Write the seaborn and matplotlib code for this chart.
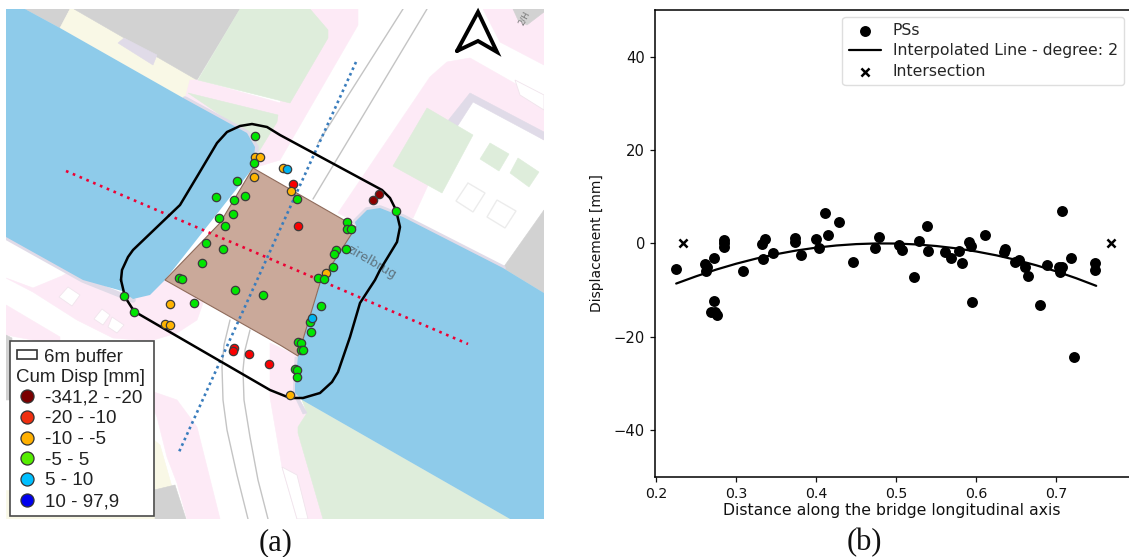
import matplotlib
matplotlib.use("Agg")
import matplotlib.pyplot as plt
import seaborn as sns
import pandas as pd
from matplotlib.lines import Line2D
from matplotlib.patches import Polygon, Rectangle

# ---------- displacement profile (panel b) ----------
pss_distance = [.225,.261,.264,.262,.272,.272,.268,.273,.276,.285,.285,.285,.308,.332,.336,.334,.346,
                .373,.373,.381,.400,.403,.411,.428,.415,.446,.478,.474,.503,.507,.529,.539,.540,.522,
                .561,.569,.579,.582,.591,.594,.595,.611,.636,.635,.653,.648,.661,.665,.680,.689,.707,
                .722,.719,.707,.704,.705,.749,.748]
pss_disp = [-5.57,-4.5,-5.07,-5.93,-3.07,-12.43,-14.7,-14.7,-15.3,.79,0,-.86,-5.86,-.14,.86,-3.36,-2.0,
            1.14,.36,-2.43,.86,-1.0,6.43,4.64,1.79,-3.93,1.29,-1.07,-.29,-1.36,.57,3.64,-1.57,-7.14,
            -1.86,-3.21,-1.64,-4.21,.29,-.64,-12.64,1.71,-1.29,-1.86,-3.64,-3.93,-5.07,-7.07,-13.2,-4.71,6.93,
            -24.3,-3.07,-5.0,-5.14,-6.07,-4.21,-5.71]
curve_distance = [.225,.25,.275,.30,.325,.35,.375,.40,.425,.45,.475,.50,.525,.55,.575,.60,.625,.65,.675,.70,.725,.75]
curve_disp = [-8.6,-7.04,-5.61,-4.35,-3.25,-2.31,-1.53,-.91,-.45,-.15,-.01,-.03,-.22,-.56,-1.06,-1.73,-2.55,-3.54,-4.69,-5.99,-7.46,-9.09]
cross_distance = [.233,.768]
cross_disp = [0,0]
x_ticks = [.2,.3,.4,.5,.6,.7]
y_ticks = [-40,-20,0,20,40]

# ---------- persistent scatterers on the map (panel a, image pixels) ----------
class_names = ["-341,2 - -20","-20 - -10","-10 - -5","-5 - 5","5 - 10","10 - 97,9"]
map_colors = ["#8b0000","#fa0000","#ffb400","#00e600","#00b4f0","#0000e6"]
legend_colors = ["#7a0000","#f03010","#ffb000","#55ee00","#00bfff","#0000ee"]
ps_dark_x = [379,373]
ps_dark_y = [194,200]
ps_red_x = [293,298,234,233,249,269]
ps_red_y = [184,226,348,351,354,364]
ps_orange_x = [255,260,254,283,291,326,170,165,170,290]
ps_orange_y = [157,157,177,168,191,273,304,324,325,395]
ps_green_x = [255,254,237,245,216,234,233,219,225,206,223,202,179,182,297,396,347,347,351,336,334,346,333,318,324,
              124,134,235,263,194,321,310,311,298,301,301,303,295,297,297]
ps_green_y = [136,163,181,196,197,200,214,218,226,243,249,263,278,279,199,211,222,229,229,250,254,249,267,278,279,
              296,312,290,295,303,306,322,332,342,343,350,350,369,370,377]
ps_cyan_x = [287,312]
ps_cyan_y = [169,318]

# ---------- map geometry (image pixels) ----------
WATER = "#8ecbea"; PINK = "#fdeaf6"; GREEN = "#deeddb"; GRAY = "#d2d2d2"; BEIGE = "#f9f8e6"; MAUVE = "#e0dbe8"
map_areas = [
    (GRAY,  [(25,9),(60,28),(70,9)]),
    (BEIGE, [(70,9),(60,28),(185,99),(197,80),(74,9)]),
    (GRAY,  [(74,9),(197,80),(240,9)]),
    (MAUVE, [(118,43),(124,38),(157,55),(153,65)]),
    (PINK,  [(190,80),(198,80),(280,103),(310,9),(358,9),(358,25),(280,160),(253,168),(247,133),(185,99)]),
    (GREEN, [(240,9),(310,9),(328,30),(328,38),(290,103),(198,80)]),
    (GREEN, [(188,93),(278,115),(277,122),(258,153),(253,142),(247,133)]),
    (PINK,  [(338,213),(430,77),(447,62),(470,58),(544,100),(544,140),(470,93),(413,218),(380,208),(356,222)]),
    (MAUVE, [(470,93),(544,132),(544,140),(473,102),(455,130),(447,122)]),
    (PINK,  [(483,9),(544,9),(544,65),(500,42)]),
    (GRAY,  [(513,9),(518,20),(527,25),(544,12),(544,9)]),
    (GRAY,  [(503,268),(544,210),(544,293)]),
    (GREEN, [(427,108),(473,135),(442,193),(393,166)]),
    (GREEN, [(490,143),(509,154),(499,171),(480,159)]),
    (GREEN, [(518,158),(539,172),(529,187),(510,173)]),
    (PINK,  [(6,278),(33,288),(62,276),(72,270),(113,292),(133,300),(165,280),(203,295),(203,303),(197,320),(177,333),(150,341),(113,338),(77,320),(33,292)]),
    (PINK,  [(6,305),(60,337),(60,345),(6,335)]),
    (GRAY,  [(6,335),(12,338),(12,400),(6,400)]),
    (PINK,  [(154,392),(177,400),(197,427),(220,519),(187,519),(177,483),(167,457),(157,417),(154,410)]),
    (BEIGE, [(154,440),(160,445),(172,487),(154,490)]),
    (GRAY,  [(154,490),(175,485),(186,519),(154,519)]),
    (BEIGE, [(6,490),(154,490),(154,519),(6,519)]),
    (PINK,  [(270,343),(298,356),(295,393),(307,413),(298,427),(298,433),(323,519),(297,519),(282,467),(270,397)]),
    (GREEN, [(302,400),(510,519),(323,519),(298,433),(298,427),(307,413)]),
    (MAUVE, [(295,357),(298,357),(296,393),(307,413),(303,414),(293,393)]),
]
white_rects = [
    [(68,287),(80,295),(72,306),(59,297)],
    [(102,309),(110,315),(103,325),(94,319)],
    [(112,317),(124,325),(117,333),(108,327)],
    [(282,467),(297,475),(308,519),(297,519)],
    [(515,80),(544,95),(544,110),(520,95)],
]
outlined_rects = [
    [(468,183),(485,193),(473,212),(456,201)],
    [(497,200),(516,211),(505,228),(487,217)],
]
bank_upper = [(185,99),(247,133),(256,147),(254,168)]
bank_lower = [(6,237),(83,280),(113,292),(133,300)]
bank_right = [(355,222),(367,210),(380,208),(403,217),(503,268)]
water_west = [(6,9),(25,9),(60,28),(185,99),(247,133),(255,147),(253,168),(165,280),(150,295),(133,299),(122,291),(83,280),(6,237)]
water_east = [(356,227),(355,222),(367,210),(380,208),(403,217),(503,268),(544,293),(544,519),(510,519),(302,400),(295,393),(295,385),(298,356),(320,283)]
deck = [(253,168),(356,227),(320,283),(298,356),(280,345),(165,280),(220,223)]
road_lines = [
    [(403,9),(318,143)], [(427,9),(313,199)],
    [(230,320),(224,345),(222,367),(223,400),(227,430),(237,475),(248,519)],
    [(250,330),(245,350),(243,370),(244,400),(250,437),(258,480),(268,519)],
]
buffer_x = [121,122,128,133,180,198,217,227,240,252,267,280,382,390,396,400,397,380,375,360,350,338,332,320,303,290,270,137,132,125,121]
buffer_y = [280,270,257,250,205,175,143,132,126,124,127,135,190,198,210,227,242,270,280,303,337,372,382,393,398,398,390,313,308,297,280]
north_x = [457,478,497,478,457]
north_y = [51,12,52,41,51]
longitudinal_x = [356,179]
longitudinal_y = [62,452]
transverse_x = [66,468]
transverse_y = [171,344]

sns.set_theme(style="ticks")
plt.rcParams["font.family"] = ["DejaVu Sans"]

W, H = 1129, 557
fig = plt.figure(figsize=(W/100, H/100), dpi=100, facecolor="white")

# ---------- panel a ----------
ax = fig.add_axes([6/W, (H-519)/H, 538/W, 510/H])
ax.set_xlim(6, 544); ax.set_ylim(519, 9); ax.axis("off")
for c, pts in map_areas:
    ax.add_patch(Polygon(pts, closed=True, fc=c, ec=c, lw=0.4, zorder=1))
for pts in white_rects:
    ax.add_patch(Polygon(pts, closed=True, fc="white", ec="#f0e4ec", lw=0.6, zorder=1.2))
for pts in outlined_rects:
    ax.add_patch(Polygon(pts, closed=True, fc="white", ec="#ececec", lw=1, zorder=1.2))
for pts in road_lines:
    ax.plot(*zip(*pts), color="#c4c4c4", lw=1, zorder=1.3)
for pts in (bank_upper, bank_lower, bank_right):
    ax.plot(*zip(*pts), color=MAUVE, lw=4, zorder=1.4, solid_capstyle="round")
ax.add_patch(Polygon(water_west, closed=True, fc=WATER, ec="none", zorder=1.5))
ax.add_patch(Polygon(water_east, closed=True, fc=WATER, ec="none", zorder=1.5))
ax.add_patch(Polygon(deck, closed=True, fc="#caa99a", ec="#8f6b5b", lw=0.8, zorder=2))
ax.text(372, 262, "zirelbrug", rotation=-30, rotation_mode="anchor", ha="center", va="center",
        fontsize=9, color="#5f7480", zorder=2.2)
ax.text(524, 18, "2/H", rotation=62, ha="center", va="center", fontsize=6, color="#777777", zorder=2.2)
ax.plot(longitudinal_x, longitudinal_y, color="#3a7dbd", lw=1.9, ls=(0, (1, 1.3)), zorder=2.5)
ax.plot(transverse_x, transverse_y, color="#ee0033", lw=1.9, ls=(0, (1, 1.8)), zorder=2.5)
ax.plot(buffer_x, buffer_y, color="black", lw=1.8, zorder=3, solid_joinstyle="round")
ax.plot(north_x, north_y, color="black", lw=2.8, zorder=3, solid_joinstyle="miter", clip_on=False)

series = [(ps_dark_x, ps_dark_y, 0), (ps_red_x, ps_red_y, 1), (ps_orange_x, ps_orange_y, 2),
          (ps_green_x, ps_green_y, 3), (ps_cyan_x, ps_cyan_y, 4)]
for xs, ys, i in series:
    sns.scatterplot(x=xs, y=ys, ax=ax, color=map_colors[i], s=36, edgecolor="#3c3c3c", linewidth=0.9,
                    zorder=4, legend=False)

# map legend
ax.add_patch(Rectangle((10, 341), 144, 175, fc="white", ec="#4a4a4a", lw=1.2, zorder=5))
ax.add_patch(Rectangle((17, 350), 20, 9, fc="white", ec="#333333", lw=1.2, zorder=6))
ax.text(44, 357, "6m buffer", fontsize=13.5, family="Liberation Sans", va="center", color="#222222", zorder=6)
handles = [Line2D([], [], ls="none", marker="o", ms=9.4, mfc=c, mec="#333333", mew=0.9) for c in legend_colors]
leg = ax.legend(handles, class_names, title="Cum Disp [mm]", loc="upper left",
                bbox_to_anchor=((16.5-6)/538, (519-369)/510), frameon=False, alignment="left",
                prop={"family": "Liberation Sans", "size": 13.5}, title_fontproperties={"family": "Liberation Sans", "size": 13.5},
                labelspacing=0.19, handlelength=1.12, handletextpad=0.4, borderpad=0, borderaxespad=0)
leg.set_zorder(6)
leg.get_title().set_color("#222222")
for t in leg.get_texts():
    t.set_color("#222222")

# ---------- panel b ----------
bx = fig.add_axes([654.6/W, (H-476.8)/H, (W-654.6)/W, 466.8/H])
pss = pd.DataFrame({"d": pss_distance, "v": pss_disp})
curve = pd.DataFrame({"d": curve_distance, "v": curve_disp})
sns.scatterplot(data=pss, x="d", y="v", ax=bx, color="black", s=62, linewidth=0, label="PSs", zorder=3)
sns.lineplot(data=curve, x="d", y="v", ax=bx, color="black", lw=1.6, label="Interpolated Line - degree: 2", zorder=3)
bx.scatter(cross_distance, cross_disp, marker="x", color="black", s=34, linewidths=1.8, label="Intersection", zorder=3)
bx.set_xlim(.198, .791); bx.set_ylim(-50, 50)
bx.set_xticks(x_ticks); bx.set_yticks(y_ticks)
bx.set_xticklabels([f"{t:.1f}" for t in x_ticks])
bx.tick_params(axis="x", labelsize=10.2, length=3.5, width=0.9, colors="#111111", pad=3.5)
bx.tick_params(axis="y", labelsize=10.6, length=3.5, width=0.9, colors="#111111", pad=3.5)
bx.set_xlabel("Distance along the bridge longitudinal axis", fontsize=11.3, color="#111111", labelpad=2)
bx.set_ylabel("Displacement [mm]", fontsize=10, color="#111111", labelpad=7)
for s in ("left", "bottom", "top"):
    bx.spines[s].set_linewidth(1.1); bx.spines[s].set_color("black")
bx.spines["right"].set_visible(False)
lg = bx.legend(loc="upper right", bbox_to_anchor=((1124-654.6)/(W-654.6), (476.8-17)/466.8), fontsize=11.3,
               frameon=True, fancybox=True, borderaxespad=0, labelspacing=0.33, handlelength=2.05, handletextpad=0.75)
lg.get_frame().set_edgecolor("#d6d6d6")

fig.text(276/W, 1-543/H, "(a)", family="Liberation Serif", fontsize=22, ha="center", va="center", color="#111111")
fig.text(864/W, 1-543/H, "(b)", family="Liberation Serif", fontsize=22, ha="center", va="center", color="#111111")
fig.savefig("out.png", dpi=100)
